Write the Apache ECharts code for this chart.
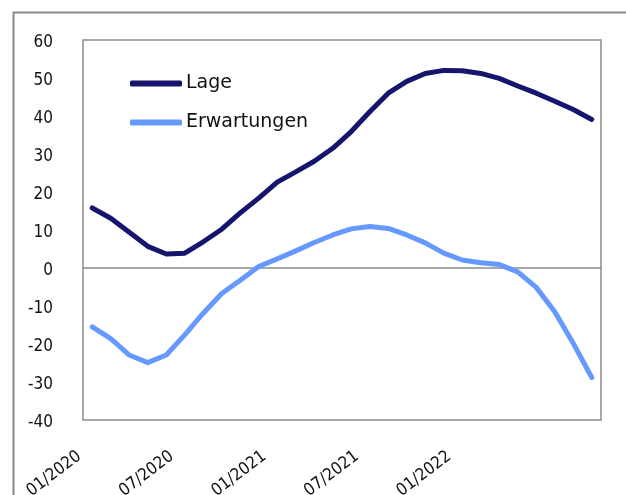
<!DOCTYPE html>
<html>
<head>
<meta charset="utf-8">
<script src="https://cdn.jsdelivr.net/npm/echarts@6/dist/echarts.min.js"></script>
<style>
  html, body { margin: 0; padding: 0; background: #fff; }
  #main { width: 626px; height: 495px; }
</style>
</head>
<body>
<div id="main"></div>
<script>
// Zeitpunkte (Beschriftung nur an jedem 5. Punkt)
var points = [];
for (var i = 0; i < 28; i++) points.push(i);
var tickLabels = ['01/2020', '07/2020', '01/2021', '07/2021', '01/2022'];

// Werte
var lage = [15.8, 13.1, 9.4, 5.7, 3.7, 3.9, 6.9, 10.2, 14.5, 18.4, 22.6, 25.3, 28.1, 31.5, 35.9, 41.1,
            46.0, 49.1, 51.2, 52.0, 51.9, 51.2, 49.9, 47.9, 46.0, 43.9, 41.7, 39.1];
var erwartungen = [-15.5, -18.6, -22.9, -24.9, -22.9, -17.6, -11.9, -6.7, -3.2, 0.4, 2.4, 4.5, 6.7, 8.7,
                   10.3, 10.9, 10.4, 8.7, 6.6, 3.9, 2.1, 1.4, 0.9, -1.0, -5.1, -11.5, -19.8, -28.8];

var tickFont = '"DejaVu Sans Condensed", "DejaVu Sans", sans-serif';
var legendFont = '"DejaVu Sans", sans-serif';

var myChart = echarts.init(document.getElementById('main'));
var option = {
    animation: false,
    backgroundColor: '#fff',
    graphic: [
        {
            type: 'rect',
            left: 11, top: 10,
            shape: {width: 700, height: 600},
            style: {fill: 'none', stroke: '#8a8a8a', lineWidth: 2},
            silent: true
        }
    ],
    grid: {
        left: 83, right: 25, top: 40, bottom: 75,
        show: true,
        borderColor: '#8c8c8c',
        borderWidth: 1.5,
        containLabel: false,
        outerBoundsMode: 'none'
    },
    legend: {
        orient: 'vertical',
        left: 125, top: 69,
        itemWidth: 52, itemHeight: 6,
        itemGap: 20,
        icon: 'roundRect',
        textStyle: {fontFamily: legendFont, fontSize: 19, color: '#111', padding: [0, 0, 0, -1]},
        data: ['Lage', 'Erwartungen']
    },
    xAxis: {
        type: 'category',
        data: points,
        boundaryGap: true,
        axisLine: {onZero: true, lineStyle: {color: '#8c8c8c', width: 1.5}},
        axisTick: {show: false},
        axisLabel: {
            interval: 0,
            rotate: 37,
            margin: 25,
            padding: [0, 16, 0, 0],
            fontFamily: tickFont, fontSize: 17, color: '#111',
            formatter: function (v, idx) {
                return idx % 5 === 0 && tickLabels[idx / 5] ? tickLabels[idx / 5] : '';
            }
        },
        splitLine: {show: false}
    },
    yAxis: {
        type: 'value',
        min: -40, max: 60, interval: 10,
        axisLine: {show: false},
        axisTick: {show: false},
        axisLabel: {
            margin: 30,
            verticalAlign: 'top',
            lineHeight: 6,
            fontFamily: tickFont, fontSize: 17, color: '#111'
        },
        splitLine: {show: false}
    },
    series: [
        {
            name: 'Lage',
            type: 'line',
            data: lage,
            symbol: 'none',
            color: '#15156e',
            lineStyle: {width: 5, cap: 'round', join: 'round', color: '#15156e'}
        },
        {
            name: 'Erwartungen',
            type: 'line',
            data: erwartungen,
            symbol: 'none',
            color: '#6699ff',
            lineStyle: {width: 5, cap: 'round', join: 'round', color: '#6699ff'}
        }
    ]
};
myChart.setOption(option);
</script>
</body>
</html>
